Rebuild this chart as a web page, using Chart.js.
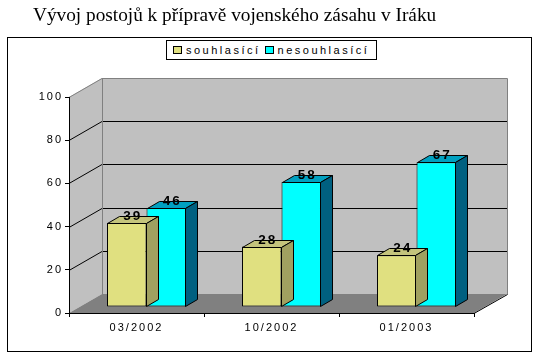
<!DOCTYPE html>
<html><head><meta charset="utf-8">
<script src="https://cdn.jsdelivr.net/npm/chart.js@4/dist/chart.umd.min.js"></script>
<style>
html,body{margin:0;padding:0;background:#fff;}
#wrap{position:relative;width:539px;height:358px;overflow:hidden;}
#title{position:absolute;left:33px;top:4px;font-family:"Liberation Serif","Times New Roman",serif;font-size:19.3px;line-height:22px;white-space:nowrap;color:#000;}
#legend{position:absolute;left:166px;top:40px;width:211px;height:20px;border:1px solid #000;box-sizing:border-box;display:flex;align-items:center;font-family:"Liberation Sans",Arial,sans-serif;font-size:11px;letter-spacing:2.5px;color:#000;background:#fff;}
#legend .it{display:flex;align-items:center;margin-left:6px;}
#legend .it + .it{margin-left:4px;}
#legend .sq{display:inline-block;width:7px;height:6px;border:1px solid #000;margin-right:4px;}
canvas{position:absolute;left:0;top:0;}
</style></head>
<body><div id="wrap"><canvas id="c" width="539" height="358"></canvas><div id="title">Vývoj postojů k přípravě vojenského zásahu v Iráku</div><div id="legend"></div></div>
<script>
const categories = ['03/2002', '10/2002', '01/2003'];
const seriesNames = ['souhlasící', 'nesouhlasící'];
const souhlasici = [39, 28, 24];
const nesouhlasici = [46, 58, 67];
const yTicks = [0, 20, 40, 60, 80, 100];

const FRONT = ['#E0E080', '#00FFFF'];
const TOP = ['#C4C47C', '#00A0C0'];
const SIDE = ['#A0A060', '#006080'];
const WALL_D = {dx: 33, dy: -19};
const BAR_SHIFT = {dx: 10, dy: -6};
const BAR_D = {dx: 12, dy: -7};
const FONT = '"Liberation Sans", Arial, sans-serif';

// HTML legend
const lg = document.getElementById('legend');
seriesNames.forEach((n, i) => {
  const it = document.createElement('span'); it.className = 'it';
  const sq = document.createElement('span'); sq.className = 'sq'; sq.style.background = FRONT[i];
  it.appendChild(sq); it.appendChild(document.createTextNode(n)); lg.appendChild(it);
});

function poly(ctx, pts, fill, stroke) {
  ctx.beginPath(); ctx.moveTo(pts[0][0], pts[0][1]);
  for (let i = 1; i < pts.length; i++) ctx.lineTo(pts[i][0], pts[i][1]);
  ctx.closePath();
  if (fill) { ctx.fillStyle = fill; ctx.fill(); }
  if (stroke) { ctx.strokeStyle = stroke; ctx.lineWidth = 1; ctx.stroke(); }
}
function line(ctx, x1, y1, x2, y2, c) {
  ctx.beginPath(); ctx.moveTo(x1, y1); ctx.lineTo(x2, y2); ctx.strokeStyle = c; ctx.lineWidth = 1; ctx.stroke();
}

const threeD = {
  id: 'threeD',
  beforeDraw(chart) {
    const ctx = chart.ctx, a = chart.chartArea, y = chart.scales.y;
    ctx.letterSpacing = '2px';
    ctx.save();
    ctx.strokeStyle = '#000'; ctx.lineWidth = 1; ctx.strokeRect(7.5, 37.5, 524, 314);
    const L = a.left, R = a.right, T = y.getPixelForValue(100), B = y.getPixelForValue(0);
    const dx = WALL_D.dx, dy = WALL_D.dy;
    poly(ctx, [[L + dx, T + dy], [R + dx, T + dy], [R + dx, B + dy], [L + dx, B + dy]], '#C0C0C0');
    poly(ctx, [[L, T], [L + dx, T + dy], [L + dx, B + dy], [L, B]], '#C0C0C0');
    poly(ctx, [[L, B], [R, B], [R + dx, B + dy], [L + dx, B + dy]], '#808080');
    yTicks.forEach(v => {
      if (v === 0 || v === 100) return;
      const py = Math.round(y.getPixelForValue(v)) + 0.5;
      line(ctx, L + dx, py + dy, R + dx + 0.5, py + dy, '#000');
      line(ctx, L, py, L + dx, py + dy, '#000');
    });
    const t = Math.round(T) + 0.5, b = Math.round(B) + 0.5;
    line(ctx, L, t, L + dx, t + dy, '#808080');
    line(ctx, L + dx, t + dy, R + dx + 0.5, t + dy, '#808080');
    line(ctx, R + dx + 0.5, t + dy, R + dx + 0.5, b + dy, '#808080');
    line(ctx, L + dx + 0.5, t + dy, L + dx + 0.5, b + dy, '#808080');
    line(ctx, R, b, R + dx + 0.5, b + dy, '#000');
    ctx.restore();
  },
  beforeDatasetsDraw(chart) {
    chart.ctx.save();
    chart.ctx.translate(BAR_SHIFT.dx, BAR_SHIFT.dy);
  },
  afterDatasetDraw(chart, args) {
    const ctx = chart.ctx, i = args.index;
    ctx.save();
    args.meta.data.forEach(el => {
      const l = Math.round(el.x - el.width / 2) + 0.5, r = Math.round(el.x + el.width / 2) - 0.5;
      const tp = Math.round(el.y) + 0.5, bs = Math.round(el.base) - 0.5;
      const dx = BAR_D.dx, dy = BAR_D.dy;
      poly(ctx, [[l, tp], [l + dx, tp + dy], [r + dx, tp + dy], [r, tp]], TOP[i], '#000');
      poly(ctx, [[r, tp], [r + dx, tp + dy], [r + dx, bs + dy], [r, bs]], SIDE[i], '#000');
    });
    ctx.restore();
  },
  afterDatasetsDraw(chart) {
    const ctx = chart.ctx;
    ctx.save();
    ctx.letterSpacing = '2px';
    ctx.font = 'bold 13.5px ' + FONT;
    ctx.fillStyle = '#000'; ctx.textAlign = 'center'; ctx.textBaseline = 'alphabetic';
    chart.data.datasets.forEach((ds, i) => {
      chart.getDatasetMeta(i).data.forEach((el, j) => {
        ctx.fillText(String(ds.data[j]), el.x + 6, el.y - 3);
      });
    });
    ctx.restore();
    ctx.restore();
  }
};

new Chart(document.getElementById('c'), {
  type: 'bar',
  data: {
    labels: categories,
    datasets: [
      {label: seriesNames[0], data: souhlasici, backgroundColor: FRONT[0], borderColor: '#000', borderWidth: 1, borderSkipped: false, categoryPercentage: 0.585, barPercentage: 1.0},
      {label: seriesNames[1], data: nesouhlasici, backgroundColor: FRONT[1], borderColor: '#000', borderWidth: 1, borderSkipped: false, categoryPercentage: 0.585, barPercentage: 1.0}
    ]
  },
  options: {
    responsive: false, animation: false, devicePixelRatio: 1,
    layout: {padding: {left: 0, top: 97, right: 65, bottom: 0}},
    plugins: {legend: {display: false}, title: {display: false}, tooltip: {enabled: false}},
    scales: {
      x: {
        offset: true,
        grid: {display: true, offset: true, drawOnChartArea: false, drawTicks: true, tickLength: 4, color: '#000', lineWidth: 1},
        border: {display: true, color: '#000', width: 1},
        ticks: {color: '#000', font: {family: FONT, size: 11}, padding: 4, maxRotation: 0, autoSkip: false},
        afterFit(s) { s.height = 45; }
      },
      y: {
        min: 0, max: 100,
        afterBuildTicks(s) { s.ticks = yTicks.map(v => ({value: v})); },
        grid: {display: true, drawOnChartArea: false, drawTicks: true, tickLength: 4, color: '#000', lineWidth: 1},
        border: {display: true, color: '#000', width: 1},
        ticks: {color: '#000', font: {family: FONT, size: 11}, padding: 2},
        afterFit(s) { s.width = 69; }
      }
    }
  },
  plugins: [threeD]
});
</script>
</body></html>
